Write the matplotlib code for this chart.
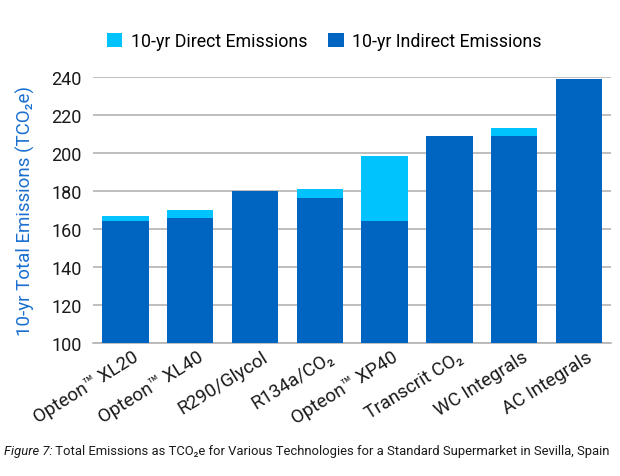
import matplotlib
matplotlib.use('Agg')
import matplotlib.pyplot as plt
import matplotlib.transforms as mtransforms
import numpy as np

plt.rcParams['font.family'] = ['Roboto', 'DejaVu Sans']

technologies = [
    'Opteon™ XL20', 'Opteon™ XL40', 'R290/Glycol', 'R134a/CO₂',
    'Opteon™ XP40', 'Transcrit CO₂', 'WC Integrals', 'AC Integrals',
]
indirect = [164.2, 165.8, 180.2, 176.3, 164.2, 208.7, 208.7, 238.6]
direct = [2.6, 4.2, 0.0, 4.9, 34.4, 0.0, 4.6, 0.0]
yticks = [100, 120, 140, 160, 180, 200, 220, 240]

dark_blue = '#0064c1'
light_blue = '#00c3fd'

fig = plt.figure(figsize=(6.2, 4.77), dpi=100)
ax = fig.add_axes([0.15, 0.278, 0.836, 0.559])

x = np.arange(len(technologies))
base = 100
ax.bar(x, np.array(indirect) - base, bottom=base, width=0.715,
       color=dark_blue, label='10-yr Indirect Emissions', zorder=3)
ax.bar(x, direct, bottom=indirect, width=0.715,
       color=light_blue, label='10-yr Direct Emissions', zorder=3)

ax.set_xlim(-0.5, 7.5)
ax.set_ylim(100, 240)
ax.set_yticks(yticks)
ax.yaxis.grid(True, color='#b3b3b3', linewidth=1.2, zorder=0)
for s in ['top', 'right', 'left']:
    ax.spines[s].set_visible(False)
ax.spines['bottom'].set_color('#b3b3b3')
ax.spines['bottom'].set_linewidth(1.2)
ax.tick_params(axis='y', length=0, pad=8, labelsize=13, labelcolor='#1a1a1a')
ax.tick_params(axis='x', length=0, pad=3)
ax.set_xticks(x)
ax.set_xticklabels(technologies, rotation=32, ha='right',
                   rotation_mode='anchor', fontsize=13.5, color='#1a1a1a')
# nudge rotated labels a bit to the right, like the original
shift = mtransforms.ScaledTranslation(7 / 100, 0, fig.dpi_scale_trans)
for lbl in ax.get_xticklabels():
    lbl.set_transform(lbl.get_transform() + shift)

ax.set_ylabel('10-yr Total Emissions (TCO₂e)', color='#1a6fd0',
              fontsize=13.5, labelpad=12)

handles, labels = ax.get_legend_handles_labels()
fig.legend(handles[::-1], labels[::-1], loc='center', ncol=2,
           bbox_to_anchor=(0.523, 0.912), frameon=False, fontsize=12.8,
           handlelength=0.85, handleheight=0.85, handletextpad=0.5,
           columnspacing=1.2)

t1 = fig.text(0.006, 0.046, 'Figure 7:', style='italic', fontsize=9.4,
              color='#1a1a1a')
ax.annotate(' Total Emissions as TCO₂e for Various Technologies for a '
            'Standard Supermarket in Sevilla, Spain',
            xy=(1, 0), xycoords=t1, va='bottom', fontsize=9.4,
            color='#1a1a1a')

fig.savefig('out.png', dpi=100)
